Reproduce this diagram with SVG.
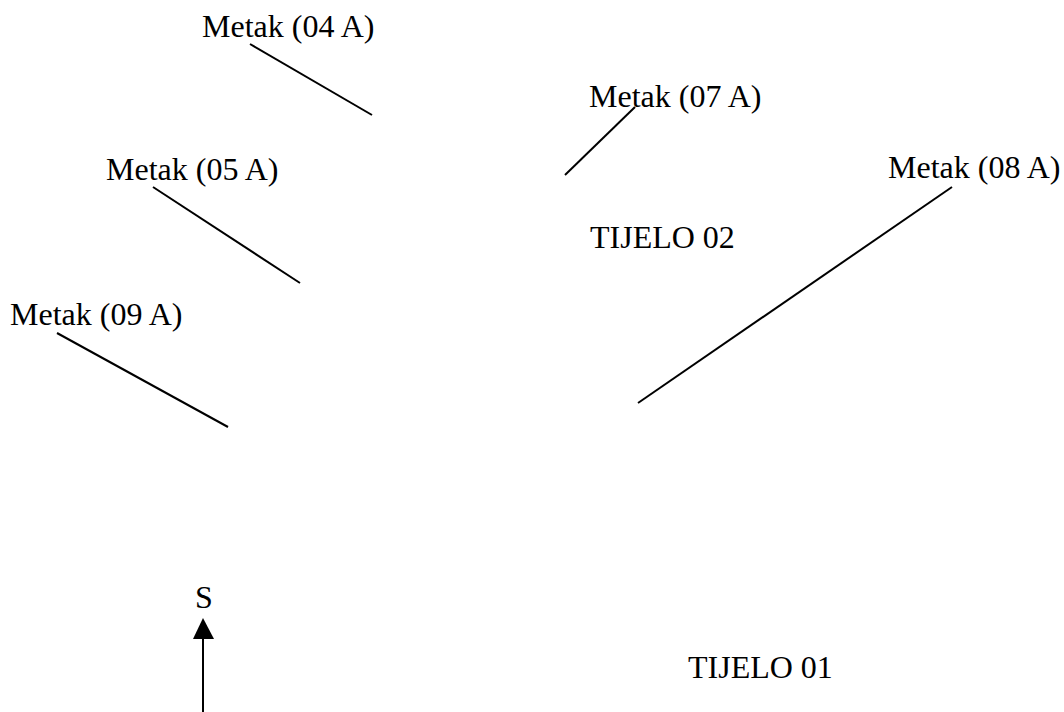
<svg xmlns="http://www.w3.org/2000/svg" width="1064" height="712" viewBox="0 0 1064 712">
<style>
text{font-family:"Liberation Serif","Times New Roman",serif;font-size:32px;fill:#000}
.ln{stroke:#000;stroke-width:2;fill:none}
</style>
<rect width="1064" height="712" fill="#fff"/>
<g id="m04"><text x="202" y="37">Metak (04 A)</text></g>
<g id="m07"><text x="589" y="107">Metak (07 A)</text></g>
<g id="m05"><text x="106" y="180">Metak (05 A)</text></g>
<g id="m08"><text x="888" y="178">Metak (08 A)</text></g>
<g id="m09"><text x="10" y="325">Metak (09 A)</text></g>
<g id="t02"><text x="590" y="248">TIJELO 02</text></g>
<g id="t01"><text x="688" y="678">TIJELO 01</text></g>
<g id="north"><text x="204" y="608" text-anchor="middle">S</text></g>
<g id="connectors">
<line class="ln" x1="250" y1="44" x2="372" y2="115"/>
<line class="ln" x1="635" y1="107" x2="565" y2="175"/>
<line class="ln" x1="153" y1="187" x2="300" y2="283"/>
<line class="ln" x1="57" y1="333" x2="228" y2="427"/>
<line class="ln" x1="952" y1="187" x2="638" y2="403"/>
<line class="ln" x1="203" y1="712" x2="203" y2="636"/>
<polygon points="203,618 193,639 214,639" fill="#000"/>
</g>
</svg>
